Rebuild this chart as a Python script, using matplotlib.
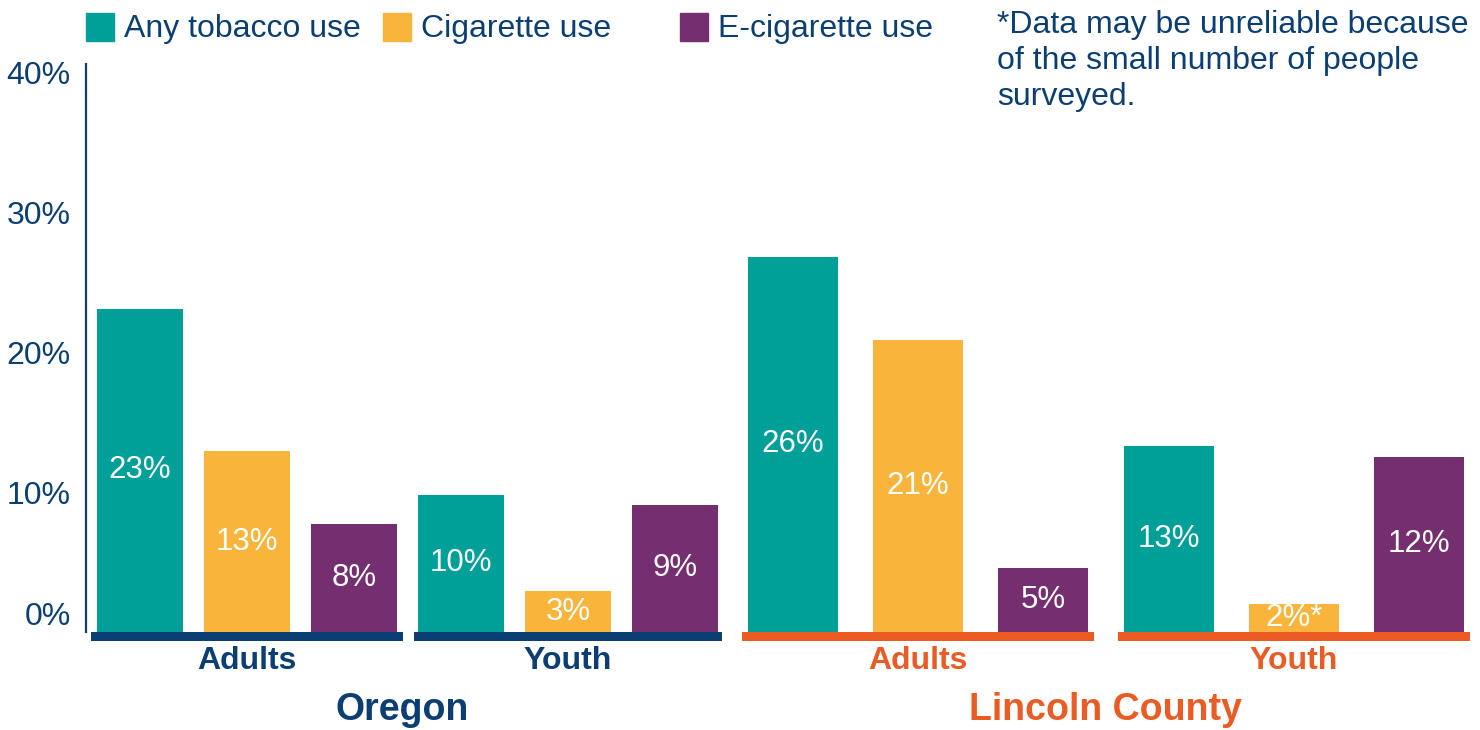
import matplotlib.pyplot as plt
from matplotlib.patches import Rectangle
from matplotlib.font_manager import findfont, FontProperties

# data
series = ["Any tobacco use", "Cigarette use", "E-cigarette use"]
groups = ["Adults", "Youth", "Adults", "Youth"]
regions = ["Oregon", "Lincoln County"]
any_tobacco = [23.1, 9.8, 26.8, 13.3]
cigarette = [12.9, 2.9, 20.9, 2.0]
e_cigarette = [7.7, 9.1, 4.6, 12.5]
any_labels = ["23%", "10%", "26%", "13%"]
cig_labels = ["13%", "3%", "21%", "2%*"]
ecig_labels = ["8%", "9%", "5%", "12%"]
yticks = [0, 10, 20, 30, 40]
note = "*Data may be unreliable because\nof the small number of people\nsurveyed."

colors = ["#00a099", "#f9b53b", "#752e6f"]
blue = "#0b3f73"
orange = "#eb5b24"

plt.rcParams['font.family'] = ['Liberation Sans', 'DejaVu Sans']
try:
    findfont(FontProperties(family='Liberation Sans Narrow'), fallback_to_default=False)
    narrow = ['Liberation Sans Narrow', 'Liberation Sans']
except Exception:
    narrow = ['Liberation Sans']

# layout (pixel-like x units)
centers = [247, 568, 918, 1294]
step = [107, 107, 125, 125]
widths = [86, 86, 90, 90]
line_half = [156, 154, 176, 176]
group_color = [blue, blue, orange, orange]
group_font = [['Liberation Sans'], ['Liberation Sans'], narrow, narrow]

fig = plt.figure(figsize=(14.8, 7.3), dpi=100)
ax = fig.add_axes([86 / 1480, 1 - 641 / 730, 1 - 86 / 1480 - 5 / 1480, (641 - 64) / 730])
ax.set_xlim(86, 1475)
ax.set_ylim(-0.65, 40.6)

vals = [any_tobacco, cigarette, e_cigarette]
labs = [any_labels, cig_labels, ecig_labels]
for s in range(3):
    for g in range(4):
        x = centers[g] + (s - 1) * step[g]
        v = vals[s][g]
        ax.bar(x, v, width=widths[g], color=colors[s], bottom=0)
        ax.text(x, v / 2, labs[s][g], color="white", fontsize=22.5,
                ha="center", va="center", family=group_font[g])

for g in range(4):
    ax.bar(centers[g], 0.65, bottom=-0.65, width=2 * line_half[g],
           color=group_color[g], clip_on=False)
    ax.text(centers[g], -2.1, groups[g], color=group_color[g], fontsize=23,
            fontweight="bold", ha="center", va="center", clip_on=False,
            family=group_font[g])

ax.text((centers[0] + centers[1]) / 2 - 5, -5.6, regions[0], color=blue,
        fontsize=27, fontweight="bold", ha="center", va="center", clip_on=False)
ax.text((centers[2] + centers[3]) / 2 - 1, -5.6, regions[1], color=orange,
        fontsize=27, fontweight="bold", ha="center", va="center", clip_on=False,
        family=narrow)

for sp in ["top", "right", "bottom"]:
    ax.spines[sp].set_visible(False)
ax.spines["left"].set_color(blue)
ax.spines["left"].set_linewidth(1.6)
ax.spines["left"].set_bounds(0, 40.6)
ax.set_xticks([])
ax.set_yticks(yticks)
ax.set_yticklabels([f"{t}%" for t in yticks])
ax.tick_params(axis="y", length=0, pad=11, labelsize=23, labelcolor=blue)
ax.get_yticklabels()[0].set_va("bottom")

# legend
for i, name in enumerate(series):
    x0 = 86 + i * 297
    fig.patches.append(Rectangle((x0 / 1480, 1 - 41 / 730), 28 / 1480, 28 / 730,
                                 transform=fig.transFigure, color=colors[i]))
    fig.text((x0 + 38) / 1480, 1 - 29 / 730, name, color=blue, fontsize=23,
             va="center", ha="left")

fig.text(997 / 1480, 1 - 10 / 730, note, color=blue, fontsize=23, va="top",
         ha="left", linespacing=1.27)

fig.savefig("out.png", dpi=100)
